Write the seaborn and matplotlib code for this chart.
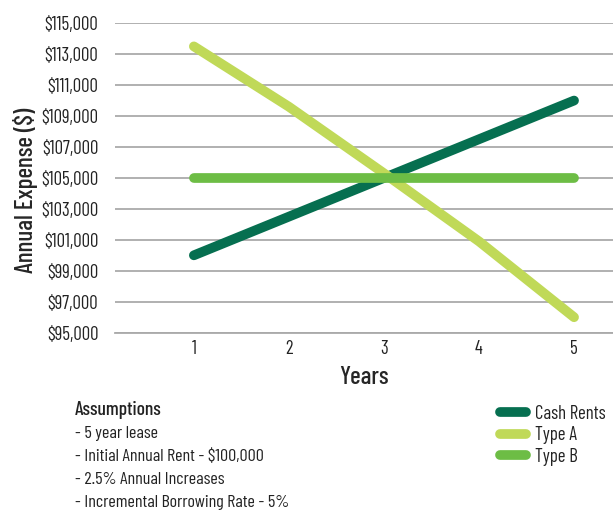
import matplotlib
matplotlib.use('Agg')
import matplotlib.pyplot as plt
import seaborn as sns
import pandas as pd

years = [1, 2, 3, 4, 5]
cash_rents = [100000, 102500, 105000, 107500, 110000]
type_a = [113500, 109600, 105300, 100900, 96000]
type_b = [105000, 105000, 105000, 105000, 105000]
series_names = ['Cash Rents', 'Type A', 'Type B']
series_colors = ['#066f50', '#c0d958', '#6dbd45']
y_ticks = list(range(95000, 115001, 2000))
assumptions = ['- 5 year lease',
               '- Initial Annual Rent - $100,000',
               '- 2.5% Annual Increases',
               '- Incremental Borrowing Rate - 5%']

df = pd.DataFrame({
    'Years': years * 3,
    'Expense': cash_rents + type_a + type_b,
    'Series': [s for s in series_names for _ in years],
})

sns.set_style('white')
plt.rcParams['font.family'] = ['Barlow Condensed', 'DejaVu Sans']

fig = plt.figure(figsize=(6.13, 5.15), dpi=100)
ax = fig.add_axes([0.1876, 0.354, 0.8124, 0.601])

sns.lineplot(data=df, x='Years', y='Expense', hue='Series', hue_order=series_names,
             palette=series_colors, linewidth=7, solid_capstyle='round', ax=ax)

ax.set_xlim(0.17, 5.41)
ax.set_ylim(95000, 115000)
ax.set_xticks(years)
ax.set_yticks(y_ticks)
ax.set_yticklabels([f'${v:,}' for v in y_ticks])
ax.tick_params(axis='both', length=0, labelsize=13.5, colors='#222222')
ax.tick_params(axis='x', pad=5)
ax.tick_params(axis='y', pad=12)
ax.grid(axis='y', color='#aaaaaa', linewidth=1.3)
ax.set_axisbelow(True)
for side in ['top', 'right', 'left']:
    ax.spines[side].set_visible(False)
ax.spines['bottom'].set_color('#aaaaaa')
ax.spines['bottom'].set_linewidth(1.3)

ax.set_xlabel('Years', fontsize=18, fontweight='medium', labelpad=6)
ax.set_ylabel('Annual Expense ($)', fontsize=18, fontweight='medium')
ax.yaxis.set_label_coords(-0.155, 0.46)

leg = ax.legend(loc='upper left', bbox_to_anchor=(0.815, 0.214), bbox_transform=fig.transFigure,
                frameon=False, fontsize=13.5, borderpad=0, borderaxespad=0,
                handlelength=1.4, handletextpad=0.5, labelspacing=0.18)
for line in leg.get_lines():
    line.set_linewidth(7)
    line.set_solid_capstyle('round')
for t in leg.get_texts():
    t.set_color('#222222')

fig.text(0.122, 0.204, 'Assumptions', fontsize=14, fontweight='medium', va='center', color='#222222')
for i, line in enumerate(assumptions):
    fig.text(0.122, 0.159 - i * 0.0447, line, fontsize=13, va='center', color='#222222')

fig.savefig('out.png', dpi=100)
